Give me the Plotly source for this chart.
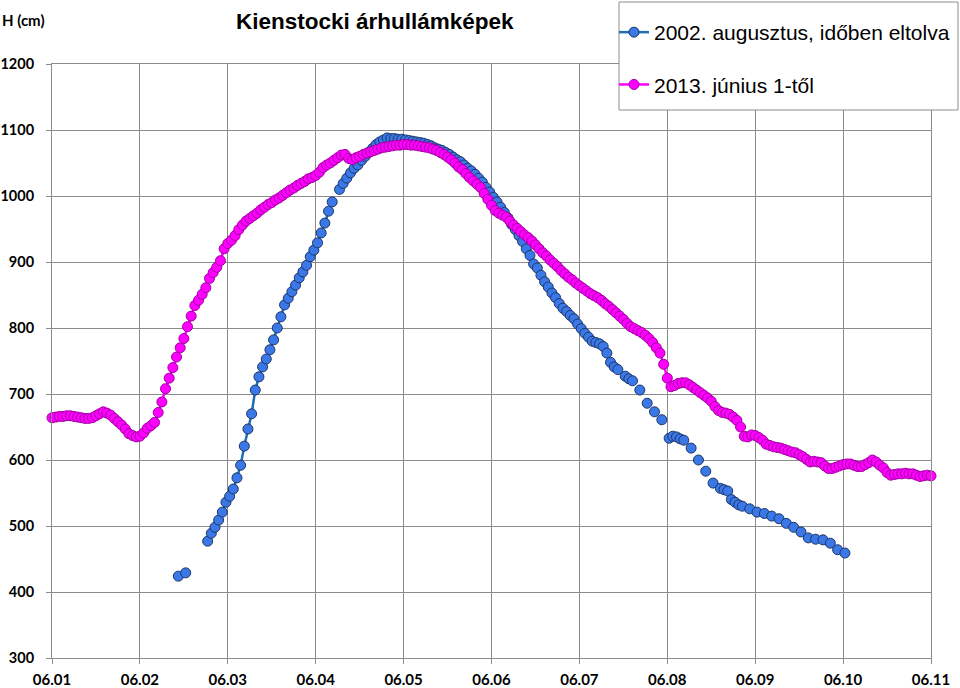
import plotly.graph_objects as go

# ---------------- data ----------------
x_tick_labels = ["06.01", "06.02", "06.03", "06.04", "06.05", "06.06",
                 "06.07", "06.08", "06.09", "06.10", "06.11"]
y_tick_values = [300, 400, 500, 600, 700, 800, 900, 1000, 1100, 1200]

# 2013. június 1-től : hourly water level (cm), starting 06.01 00:00
level_2013 = [
    664, 665, 666, 666, 667, 667, 666, 665, 664, 663,
    663, 664, 667, 670, 673, 671, 668, 663, 658, 653,
    647, 640, 637, 635, 636, 641, 648, 652, 657, 672,
    688, 708, 724, 740, 756, 770, 784, 802, 818, 834,
    842, 851, 861, 875, 884, 892, 902, 920, 928, 933,
    940, 949, 956, 962, 966, 970, 974, 979, 983, 987,
    990, 994, 997, 1001, 1005, 1009, 1012, 1016, 1019, 1022,
    1026, 1028, 1031, 1036, 1043, 1047, 1050, 1054, 1058, 1062,
    1063, 1057, 1055, 1058, 1060, 1063, 1065, 1067, 1069, 1071,
    1073, 1074, 1075, 1076, 1077, 1077, 1078, 1078, 1077, 1077,
    1076, 1075, 1074, 1073, 1071, 1069, 1066, 1063, 1059, 1055,
    1050, 1044, 1040, 1034, 1028, 1023, 1018, 1013, 1004, 995,
    986, 978, 974, 971, 968, 962, 956, 951, 946, 941,
    937, 932, 926, 920, 914, 909, 903, 898, 893, 887,
    882, 877, 873, 868, 864, 860, 856, 852, 849, 846,
    842, 837, 833, 828, 823, 818, 813, 807, 802, 799,
    796, 793, 789, 784, 778, 770, 762, 745, 724, 711,
    713, 716, 717, 717, 714, 710, 706, 702, 698, 694,
    689, 681, 675, 672, 671, 669, 665, 660, 650, 636,
    635, 638, 637, 634, 630, 624, 622, 620, 619, 618,
    616, 614, 612, 611, 608, 605, 601, 597, 598, 597,
    596, 591, 587, 587, 589, 591, 593, 594, 594, 592,
    590, 590, 593, 596, 600, 597, 592, 588, 581, 577,
    578, 579, 579, 580, 579, 579, 577, 575, 576, 577, 576,
]

# 2002. augusztus, időben eltolva : hourly values (None = missing),
# first value at hour 34.5 after 06.01 00:00
level_2002_start_hour = 34.5
level_2002 = [
    424, None, 429, None, None, None, None, None,
    477, 489, 498, 509, 521, 536, 545, 556, 573, 592,
    621, 647, 670, 706, 726, 741, 753, 767, 782, 800,
    817, 835, 845, 855, 865, 876, 885, 895, 908, 918,
    929, 944, 959, 977, 991,
    None,
    1010, 1019, 1027, 1035, 1042, 1047, 1054, 1060, 1066, 1072,
    1078, 1082, 1085, 1088, 1087, 1087, 1086, 1086, 1085, 1084,
    1083, 1082, 1081, 1080, 1078, 1076, 1073, 1071, 1069, 1066,
    1063, 1059, 1055, 1052, 1047, 1042, 1038, 1033, 1027, 1021,
    1013,
    1006, 998, 991, 983, 975, 967, 957, 949, 940, 931,
    920, 910, 897, 891, 880, 870, 862, 853, 846, 837,
    830, 825, 819, 814, 806, 799, 792, 786, 780, 778,
    776, 772, 762, 748, 741, 737,
    None, 727, 723, 720, None, 706, None, 686, None, 673,
    None, 661, None, 633, 636, 635, 632, 630, None, 618,
    None, 600, None, 583, None, 565, None, 557, 555, 553,
    540, 536, 532, 530, None, 526, None, 521, None, 519,
    None, 515, None, 511, None, 504, None, 498, None, 491,
    None, 482, None, 480, None, 479, None, 474, None, 464,
    None, 459,
]

# ---------------- figure ----------------
x_2013 = [h / 24 for h in range(len(level_2013))]
x_2002 = [(level_2002_start_hour + i) / 24 for i in range(len(level_2002))]

fig = go.Figure()
fig.add_trace(go.Scatter(
    x=x_2002, y=level_2002, mode="lines+markers",
    name="2002. augusztus, időben eltolva", legendgroup="a",
    line=dict(color="#1f6fb2", width=2.5),
    marker=dict(size=10, color="#3b78e7", line=dict(color="#1d3668", width=1)),
    connectgaps=False, cliponaxis=False,
))
fig.add_trace(go.Scatter(
    x=x_2013, y=level_2013, mode="lines+markers",
    name="2013. június 1-től", legendgroup="b",
    line=dict(color="#ff00ff", width=2.5),
    marker=dict(size=10, color="#ff00ff", line=dict(color="#a000a0", width=1)),
    cliponaxis=False,
))

grid = "#8c8c8c"
L, R, T, B = 52, 931, 64, 658
PW, PH = R - L, B - T


def px_x(p):
    return (p - L) / PW


def px_y(p):
    return (B - p) / PH


fig.update_layout(
    width=960, height=688,
    margin=dict(l=L, r=960 - R, t=T, b=688 - B, autoexpand=False),
    plot_bgcolor="white", paper_bgcolor="white",
    legend=dict(
        x=px_x(614), y=px_y(12), xref="paper", yref="paper",
        xanchor="left", yanchor="top",
        bgcolor="rgba(0,0,0,0)", borderwidth=0,
        font=dict(family="Liberation Sans, Arial, sans-serif", size=21, color="black"),
        tracegroupgap=22, itemwidth=30,
    ),
    shapes=[
        dict(type="rect", xref="paper", yref="paper",
             x0=px_x(619), x1=px_x(958), y0=px_y(110), y1=px_y(2),
             fillcolor="white", line=dict(color=grid, width=1), layer="above"),
    ],
    xaxis=dict(
        range=[0, 10], tickmode="array", tickvals=list(range(11)), ticktext=x_tick_labels,
        showgrid=True, gridcolor=grid, gridwidth=1, zeroline=False,
        showline=True, linecolor=grid, linewidth=1, mirror=True,
        ticks="outside", ticklen=5, tickcolor=grid,
        tickfont=dict(family="Lato, sans-serif", size=15, color="black", weight="bold"),
        ticklabelstandoff=3,
    ),
    yaxis=dict(
        range=[300, 1200], tickmode="array", tickvals=y_tick_values,
        showgrid=True, gridcolor=grid, gridwidth=1, zeroline=False,
        showline=True, linecolor=grid, linewidth=1, mirror=True,
        ticks="outside", ticklen=5, tickcolor=grid,
        tickfont=dict(family="Lato, sans-serif", size=14.5, color="black", weight="bold"),
        ticklabelstandoff=9,
    ),
    annotations=[
        dict(text="Kienstocki árhullámképek", xref="paper", yref="paper",
             x=px_x(375), y=px_y(22), xanchor="center", yanchor="middle",
             showarrow=False,
             font=dict(family="Liberation Sans, Arial, sans-serif", size=22.5, color="black", weight="bold")),
        dict(text="H (cm)", xref="paper", yref="paper",
             x=px_x(0), y=px_y(20), xanchor="left", yanchor="middle",
             showarrow=False,
             font=dict(family="Lato, sans-serif", size=15, color="black", weight="bold")),
    ],
)

fig.write_html("out.html", config={"displayModeBar": False},
               post_script="document.body.style.margin='0px';")
